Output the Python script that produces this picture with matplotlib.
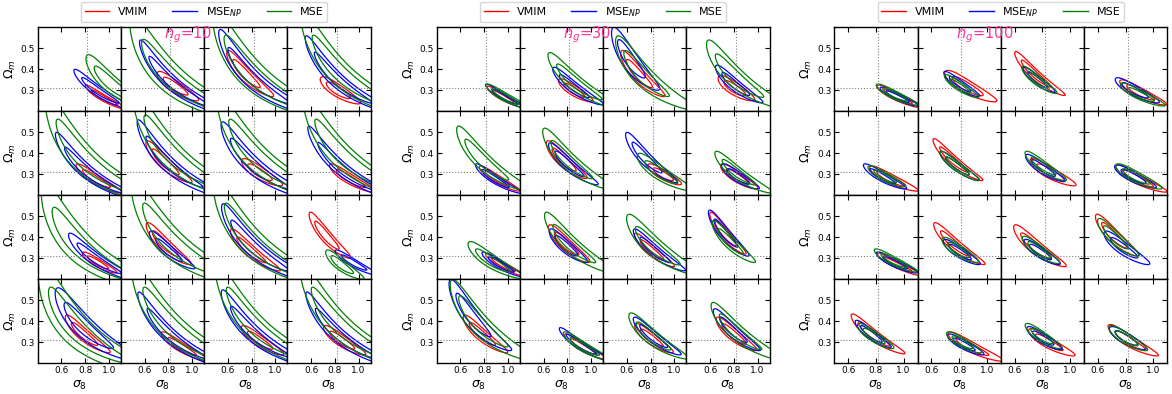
import numpy as np
import matplotlib.pyplot as plt

# each contour: (sigma8 centre, Omega_m centre, Om half-extent of 95% contour, sigma8 half-width of 95% contour)
# 16 cells per panel, row by row
vmim_10 = [
    (0.95, 0.265, 0.06, 0.05), (0.85, 0.32, 0.07, 0.08), (0.74, 0.38, 0.11, 0.07), (0.82, 0.30, 0.065, 0.085),
    (0.88, 0.28, 0.07, 0.07), (0.76, 0.36, 0.10, 0.07), (0.86, 0.31, 0.065, 0.085), (0.92, 0.28, 0.07, 0.075),
    (0.90, 0.28, 0.05, 0.06), (0.76, 0.37, 0.10, 0.07), (0.78, 0.34, 0.10, 0.07), (0.72, 0.41, 0.11, 0.06),
    (0.78, 0.34, 0.09, 0.07), (0.90, 0.28, 0.07, 0.07), (0.86, 0.31, 0.07, 0.075), (0.85, 0.31, 0.07, 0.075)]
msenp_10 = [
    (0.90, 0.30, 0.10, 0.07), (0.82, 0.34, 0.20, 0.085), (0.78, 0.37, 0.22, 0.10), (0.80, 0.36, 0.20, 0.085),
    (0.80, 0.32, 0.18, 0.085), (0.78, 0.36, 0.20, 0.085), (0.80, 0.35, 0.20, 0.10), (0.85, 0.33, 0.20, 0.085),
    (0.88, 0.30, 0.12, 0.085), (0.79, 0.34, 0.09, 0.07), (0.80, 0.36, 0.20, 0.10), (0.95, 0.28, 0.06, 0.06),
    (0.78, 0.38, 0.18, 0.12), (0.80, 0.34, 0.20, 0.085), (0.80, 0.35, 0.20, 0.095), (0.82, 0.34, 0.20, 0.085)]
mse_10 = [
    (1.02, 0.33, 0.14, 0.13), (0.82, 0.36, 0.30, 0.17), (0.80, 0.38, 0.30, 0.16), (0.85, 0.38, 0.30, 0.14),
    (0.78, 0.38, 0.30, 0.15), (0.82, 0.40, 0.30, 0.14), (0.85, 0.38, 0.30, 0.15), (0.88, 0.38, 0.30, 0.14),
    (0.75, 0.36, 0.30, 0.17), (0.82, 0.38, 0.30, 0.16), (0.80, 0.38, 0.30, 0.15), (0.85, 0.27, 0.07, 0.08),
    (0.70, 0.38, 0.30, 0.17), (0.82, 0.38, 0.30, 0.15), (0.82, 0.38, 0.30, 0.14), (0.84, 0.38, 0.30, 0.14)]
mse_10_tilt = {0: 0.6, 11: 0.5}

vmim_30 = [
    (0.95, 0.27, 0.05, 0.05), (0.85, 0.30, 0.055, 0.07), (0.69, 0.38, 0.11, 0.07), (0.80, 0.31, 0.06, 0.085),
    (0.90, 0.28, 0.06, 0.06), (0.76, 0.37, 0.09, 0.07), (0.90, 0.30, 0.05, 0.07), (0.82, 0.29, 0.06, 0.07),
    (0.95, 0.27, 0.055, 0.05), (0.78, 0.37, 0.09, 0.07), (0.80, 0.34, 0.08, 0.06), (0.72, 0.42, 0.10, 0.05),
    (0.77, 0.34, 0.09, 0.07), (0.92, 0.28, 0.06, 0.06), (0.80, 0.32, 0.07, 0.07), (0.79, 0.34, 0.08, 0.07)]
msenp_30 = [
    (0.96, 0.27, 0.06, 0.05), (0.84, 0.32, 0.09, 0.07), (0.62, 0.45, 0.15, 0.085), (0.80, 0.33, 0.09, 0.07),
    (0.88, 0.28, 0.07, 0.06), (0.80, 0.35, 0.10, 0.07), (0.75, 0.38, 0.12, 0.07), (0.83, 0.29, 0.06, 0.07),
    (0.93, 0.27, 0.06, 0.06), (0.78, 0.36, 0.08, 0.07), (0.82, 0.34, 0.10, 0.07), (0.72, 0.42, 0.11, 0.06),
    (0.68, 0.43, 0.17, 0.085), (0.90, 0.29, 0.08, 0.06), (0.81, 0.33, 0.09, 0.07), (0.78, 0.36, 0.10, 0.07)]
mse_30 = [
    (0.97, 0.27, 0.06, 0.065), (0.86, 0.34, 0.14, 0.095), (0.72, 0.38, 0.18, 0.11), (0.80, 0.37, 0.17, 0.11),
    (0.78, 0.37, 0.16, 0.095), (0.80, 0.37, 0.15, 0.095), (0.87, 0.31, 0.09, 0.095), (0.82, 0.31, 0.10, 0.08),
    (0.85, 0.29, 0.09, 0.095), (0.82, 0.37, 0.15, 0.095), (0.82, 0.36, 0.15, 0.11), (0.76, 0.38, 0.10, 0.065),
    (0.74, 0.40, 0.20, 0.11), (0.93, 0.28, 0.07, 0.07), (0.80, 0.33, 0.11, 0.09), (0.82, 0.35, 0.14, 0.095)]

vmim_100 = [
    (0.95, 0.27, 0.055, 0.06), (0.85, 0.32, 0.075, 0.085), (0.74, 0.38, 0.105, 0.05), (0.90, 0.29, 0.06, 0.07),
    (0.90, 0.28, 0.06, 0.07), (0.75, 0.37, 0.10, 0.05), (0.85, 0.31, 0.065, 0.075), (0.88, 0.28, 0.065, 0.07),
    (0.95, 0.27, 0.055, 0.05), (0.76, 0.37, 0.10, 0.06), (0.74, 0.36, 0.10, 0.07), (0.71, 0.41, 0.10, 0.06),
    (0.77, 0.34, 0.095, 0.06), (0.88, 0.28, 0.07, 0.075), (0.84, 0.30, 0.065, 0.07), (0.82, 0.31, 0.075, 0.07)]
msenp_100 = [
    (0.95, 0.27, 0.045, 0.05), (0.80, 0.33, 0.06, 0.05), (0.76, 0.35, 0.06, 0.045), (0.86, 0.30, 0.06, 0.07),
    (0.84, 0.29, 0.06, 0.06), (0.78, 0.34, 0.07, 0.05), (0.80, 0.33, 0.065, 0.06), (0.85, 0.29, 0.055, 0.07),
    (0.93, 0.28, 0.05, 0.06), (0.80, 0.33, 0.06, 0.06), (0.78, 0.33, 0.06, 0.06), (0.78, 0.35, 0.08, 0.07),
    (0.76, 0.34, 0.065, 0.05), (0.83, 0.29, 0.05, 0.06), (0.80, 0.32, 0.055, 0.06), (0.80, 0.32, 0.055, 0.07)]
mse_100 = [
    (0.93, 0.28, 0.05, 0.06), (0.80, 0.32, 0.055, 0.05), (0.76, 0.35, 0.065, 0.05), (0.90, 0.28, 0.055, 0.07),
    (0.86, 0.29, 0.05, 0.06), (0.78, 0.34, 0.07, 0.05), (0.80, 0.34, 0.07, 0.06), (0.87, 0.29, 0.06, 0.075),
    (0.92, 0.29, 0.055, 0.06), (0.79, 0.34, 0.06, 0.065), (0.77, 0.34, 0.065, 0.06), (0.72, 0.40, 0.09, 0.06),
    (0.78, 0.33, 0.06, 0.06), (0.82, 0.30, 0.05, 0.06), (0.79, 0.33, 0.06, 0.06), (0.80, 0.32, 0.06, 0.065)]

ng_values = [10, 30, 100]
method_labels = ["VMIM", "MSE$_{NP}$", "MSE"]
method_colors = ["red", "blue", "green"]
panels = [
    (vmim_10, msenp_10, mse_10),
    (vmim_30, msenp_30, mse_30),
    (vmim_100, msenp_100, mse_100),
]
tilts = {(0, 2): mse_10_tilt}
xlims = [(0.4, 1.1), (0.4, 1.1), (0.5, 1.1)]
sigma8_true, om_true = 0.8159, 0.3089
ALPHA = 0.8  # S8-like degeneracy exponent

W, H = 1172, 394
fig = plt.figure(figsize=(W / 100, H / 100), dpi=100)

panel_left = [37.7, 436.7, 834.3]
cell_w, cell_h, top = 83.2, 84.0, 27.3

s_grid = np.linspace(0.3, 1.3, 400)
o_grid = np.linspace(0.14, 0.7, 400)
S, O = np.meshgrid(s_grid, o_grid)


def chi2(params, rho=0.0):
    s0, o0, h, w = params
    u = S * (O / 0.3) ** ALPHA
    u0 = s0 * (o0 / 0.3) ** ALPHA
    su = w / 2.49 * (o0 / 0.3) ** ALPHA
    sv = h / 2.49
    du = (u - u0) / su
    dv = (O - o0) / sv
    return (du ** 2 - 2 * rho * du * dv + dv ** 2) / (1 - rho ** 2)


for p, (ng, series) in enumerate(zip(ng_values, panels)):
    x0 = panel_left[p]
    for r in range(4):
        for c in range(4):
            k = r * 4 + c
            ax = fig.add_axes([(x0 + c * cell_w) / W, 1 - (top + (r + 1) * cell_h) / H,
                               cell_w / W, cell_h / H])
            for m, (data, col) in enumerate(zip(series, method_colors)):
                rho = tilts.get((p, m), {}).get(k, 0.0)
                ax.contour(S, O, chi2(data[k], rho), levels=[2.30, 6.18],
                           colors=col, linewidths=0.9)
            ax.axvline(sigma8_true, color="gray", ls=":", lw=0.8)
            ax.axhline(om_true, color="gray", ls=":", lw=0.8)
            ax.set_xlim(*xlims[p])
            ax.set_ylim(0.2, 0.6)
            ax.set_xticks([0.6, 0.8, 1.0])
            ax.set_yticks([0.3, 0.4, 0.5])
            ax.tick_params(direction="in", top=True, right=True, length=3.5,
                           labelsize=6.5, pad=2)
            for sp in ax.spines.values():
                sp.set_linewidth(1.0)
            if c == 0:
                ax.set_ylabel(r"$\Omega_m$", fontsize=9, labelpad=2)
            else:
                ax.set_yticklabels([])
            if r == 3:
                ax.set_xlabel(r"$\sigma_8$", fontsize=9, labelpad=3)
            else:
                ax.set_xticklabels([])

    centre = x0 + 2 * cell_w
    handles = [plt.Line2D([], [], color=col, lw=1) for col in method_colors]
    fig.legend(handles, method_labels, loc="upper center", ncol=3, fontsize=8,
               bbox_to_anchor=(centre / W, 1 - 2 / H), borderaxespad=0,
               columnspacing=2.2, handlelength=2.2, borderpad=0.3, frameon=True)
    fig.text((centre - 16) / W, 1 - 34.5 / H, "$n_g$=%d" % ng, color="#ff3399",
             fontsize=10.5, ha="center", va="center", zorder=10)

fig.savefig("out.png", dpi=100)
